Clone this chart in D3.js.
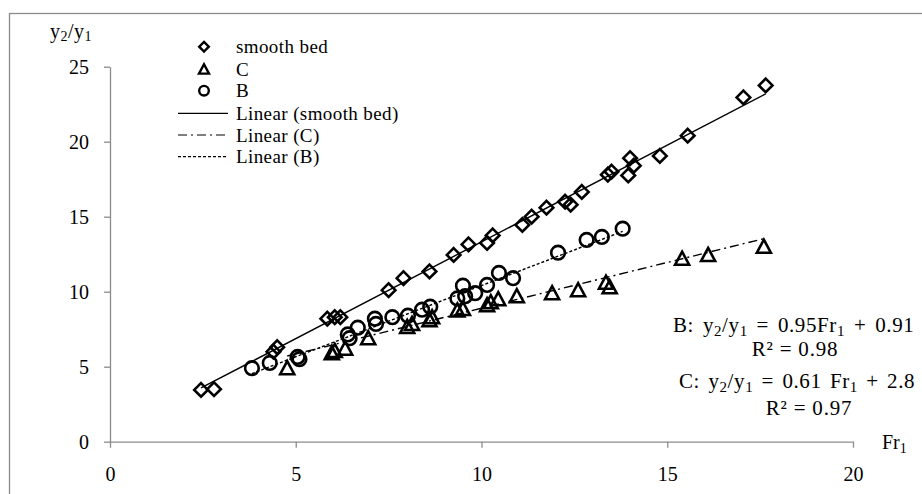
<!DOCTYPE html>
<html><head><meta charset="utf-8">
<script src="https://cdn.jsdelivr.net/npm/d3@7/dist/d3.min.js"></script>
<style>
body{margin:0;background:#fff;}
svg text{font-family:"Liberation Serif","Times New Roman",serif;fill:#000;}
</style></head>
<body><svg id="c" width="922" height="494" font-family="Liberation Serif"></svg>
<script>
// ---- data ----
const smoothX = [2.45,2.8,4.4,4.5,5.85,6.05,6.2,7.5,7.9,8.6,9.25,9.65,10.15,10.3,11.1,11.35,11.75,12.25,12.4,12.7,13.4,13.5,14.0,14.1,13.95,14.8,15.55,17.05,17.65];
const smoothY = [3.45,3.5,6.0,6.3,8.2,8.3,8.3,10.1,10.9,11.35,12.45,13.15,13.25,13.75,14.45,15.0,15.6,16.0,15.8,16.65,17.8,18.0,18.9,18.4,17.75,19.05,20.4,22.95,23.75];
const cX = [4.77,5.97,6.05,6.33,6.95,8.0,8.13,8.6,8.67,9.35,9.5,10.15,10.25,10.45,10.95,11.9,12.6,13.35,13.45,15.4,16.1,17.6];
const cY = [4.9,5.9,6.05,6.2,6.9,7.65,7.85,8.1,8.3,8.75,8.85,9.1,9.3,9.5,9.7,9.9,10.1,10.6,10.3,12.2,12.45,13.0];
const bX = [3.82,4.3,5.05,5.1,6.4,6.45,6.67,7.13,7.16,7.6,8.02,8.4,8.62,9.35,9.5,9.56,9.83,10.15,10.47,10.85,12.06,12.83,13.24,13.8];
const bY = [4.9,5.25,5.65,5.5,7.15,6.9,7.6,8.2,7.85,8.3,8.4,8.8,9.0,9.55,10.4,9.7,9.9,10.45,11.25,10.9,12.6,13.45,13.65,14.2];
// linear fits: [slope, intercept]
const fitSmooth = [1.29, 0.42];
const fitC = [0.61, 2.8];
const fitB = [0.95, 0.91];
const xTicks = [0,5,10,15,20];
const yTicks = [0,5,10,15,20,25];
const legendLabels = ["smooth bed","C","B","Linear (smooth bed)","Linear (C)","Linear (B)"];

const FONT = "Liberation Serif";
const svg = d3.select("#c");
const x = d3.scaleLinear().domain([0,20]).range([110,853]);
const y = d3.scaleLinear().domain([0,25]).range([441.7,66.7]);
const gray = "#8c8c8c";

// outer border (extends past the image on right/bottom)
svg.append("rect").attr("x",9.5).attr("y",13.5).attr("width",1000).attr("height",1000)
  .attr("fill","none").attr("stroke",gray).attr("stroke-width",1.3);

// axes
const xa = svg.append("g").attr("transform",`translate(0,${y(0)})`)
  .call(d3.axisBottom(x).tickValues(xTicks).tickSize(6).tickPadding(19).tickSizeOuter(0));
const ya = svg.append("g").attr("transform",`translate(${x(0)},0)`)
  .call(d3.axisLeft(y).tickValues(yTicks).tickSize(6).tickPadding(15).tickSizeOuter(0));
[xa,ya].forEach(g=>{
  g.attr("font-family",FONT);
  g.select(".domain").attr("stroke",gray).attr("stroke-width",1.3);
  g.selectAll(".tick line").attr("stroke",gray).attr("stroke-width",1.3);
  g.selectAll(".tick text").attr("font-family",FONT).attr("font-size",20).attr("fill","#000");
});
xa.selectAll(".tick text").attr("dy","0.71em");

// trendlines
function fitLine(xs, fit){ const e=d3.extent(xs); return e.map(v=>[v, fit[0]*v+fit[1]]); }
const line = d3.line().x(d=>x(d[0])).y(d=>y(d[1]));
const styles = [
  {xs:smoothX, fit:fitSmooth, dash:null},
  {xs:cX, fit:fitC, dash:"9,4,2,4"},
  {xs:bX, fit:fitB, dash:"3,2"}
];
styles.forEach(s=>{
  svg.append("path").attr("d",line(fitLine(s.xs,s.fit))).attr("fill","none")
    .attr("stroke","#000").attr("stroke-width",1.4).attr("stroke-dasharray",s.dash);
});

// marker paths
const diamond = "M0,-6.8L6.8,0L0,6.8L-6.8,0Z";
const triangle = "M0,-7L7,6L-7,6Z";
function markers(xs, ys, kind){
  const data = xs.map((v,i)=>[v,ys[i]]);
  const g = svg.append("g");
  if(kind==="circle"){
    g.selectAll("circle").data(data).join("circle")
      .attr("cx",d=>x(d[0])).attr("cy",d=>y(d[1])).attr("r",6.8)
      .attr("fill","none").attr("stroke","#000").attr("stroke-width",2.6);
  } else {
    g.selectAll("path").data(data).join("path")
      .attr("d",kind==="diamond"?diamond:triangle)
      .attr("transform",d=>`translate(${x(d[0])},${y(d[1])})`)
      .attr("fill","none").attr("stroke","#000").attr("stroke-width",2.6).attr("stroke-linejoin","miter");
  }
}
markers(smoothX, smoothY, "diamond");
markers(cX, cY, "triangle");
markers(bX, bY, "circle");

// legend
const lg = svg.append("g");
const rowsY = [46.7,69.3,90.7,113.3,135,156.7];
lg.append("path").attr("d","M0,-4.8L4.8,0L0,4.8L-4.8,0Z").attr("transform",`translate(204,${rowsY[0]})`)
  .attr("fill","none").attr("stroke","#000").attr("stroke-width",2.4);
lg.append("path").attr("d","M0,-5L5,4.3L-5,4.3Z").attr("transform",`translate(204,${rowsY[1]})`)
  .attr("fill","none").attr("stroke","#000").attr("stroke-width",2.4);
lg.append("circle").attr("cx",204).attr("cy",rowsY[2]).attr("r",4.8)
  .attr("fill","none").attr("stroke","#000").attr("stroke-width",2.4);
[null,"9,4,2,4","3,2"].forEach((d,i)=>{
  lg.append("line").attr("x1",178).attr("x2",228).attr("y1",rowsY[3+i]).attr("y2",rowsY[3+i])
    .attr("stroke","#000").attr("stroke-width",1.2).attr("stroke-dasharray",d);
});
legendLabels.forEach((t,i)=>{
  lg.append("text").attr("x",236).attr("y",rowsY[i]).attr("dy","0.35em")
    .attr("font-family",FONT).attr("font-size",19).attr("letter-spacing",0.4).text(t);
});

// axis titles
const yt = svg.append("text").attr("x",50).attr("y",38).attr("font-family",FONT).attr("font-size",20).attr("letter-spacing",0.5);
yt.append("tspan").text("y");
yt.append("tspan").attr("font-size",14).attr("dy",3).text("2");
yt.append("tspan").attr("font-size",20).attr("dy",-3).text("/y");
yt.append("tspan").attr("font-size",14).attr("dy",3).text("1");
const xt = svg.append("text").attr("x",882).attr("y",449).attr("font-family",FONT).attr("font-size",20);
xt.append("tspan").text("Fr");
xt.append("tspan").attr("font-size",14).attr("dy",4).text("1");

// equations: parts = [text, isSubscript]
function eq(xp, yp, parts, ws){
  const t = svg.append("text").attr("x",xp).attr("y",yp).attr("font-family",FONT).attr("font-size",21)
    .attr("letter-spacing",0.6).attr("word-spacing",ws);
  let sub=false;
  parts.forEach(p=>{
    const s=t.append("tspan").text(p[0]);
    if(p[1] && !sub){ s.attr("font-size",15).attr("dy",4); sub=true; }
    else if(p[1] && sub){ s.attr("font-size",15); }
    else if(!p[1] && sub){ s.attr("font-size",21).attr("dy",-4); sub=false; }
    else s.attr("font-size",21);
  });
}
eq(673,332,[["B: y"],["2",1],["/y"],["1",1],[" = 0.95Fr"],["1",1],[" + 0.91"]], 3);
svg.append("text").attr("x",795).attr("y",356).attr("text-anchor","middle").attr("font-family",FONT).attr("font-size",21).attr("letter-spacing",0.8).text("R² = 0.98");
eq(679,388,[["C: y"],["2",1],["/y"],["1",1],[" = 0.61 Fr"],["1",1],[" + 2.8"]], 2.5);
svg.append("text").attr("x",809).attr("y",415).attr("text-anchor","middle").attr("font-family",FONT).attr("font-size",21).attr("letter-spacing",0.8).text("R² = 0.97");
</script></body></html>
